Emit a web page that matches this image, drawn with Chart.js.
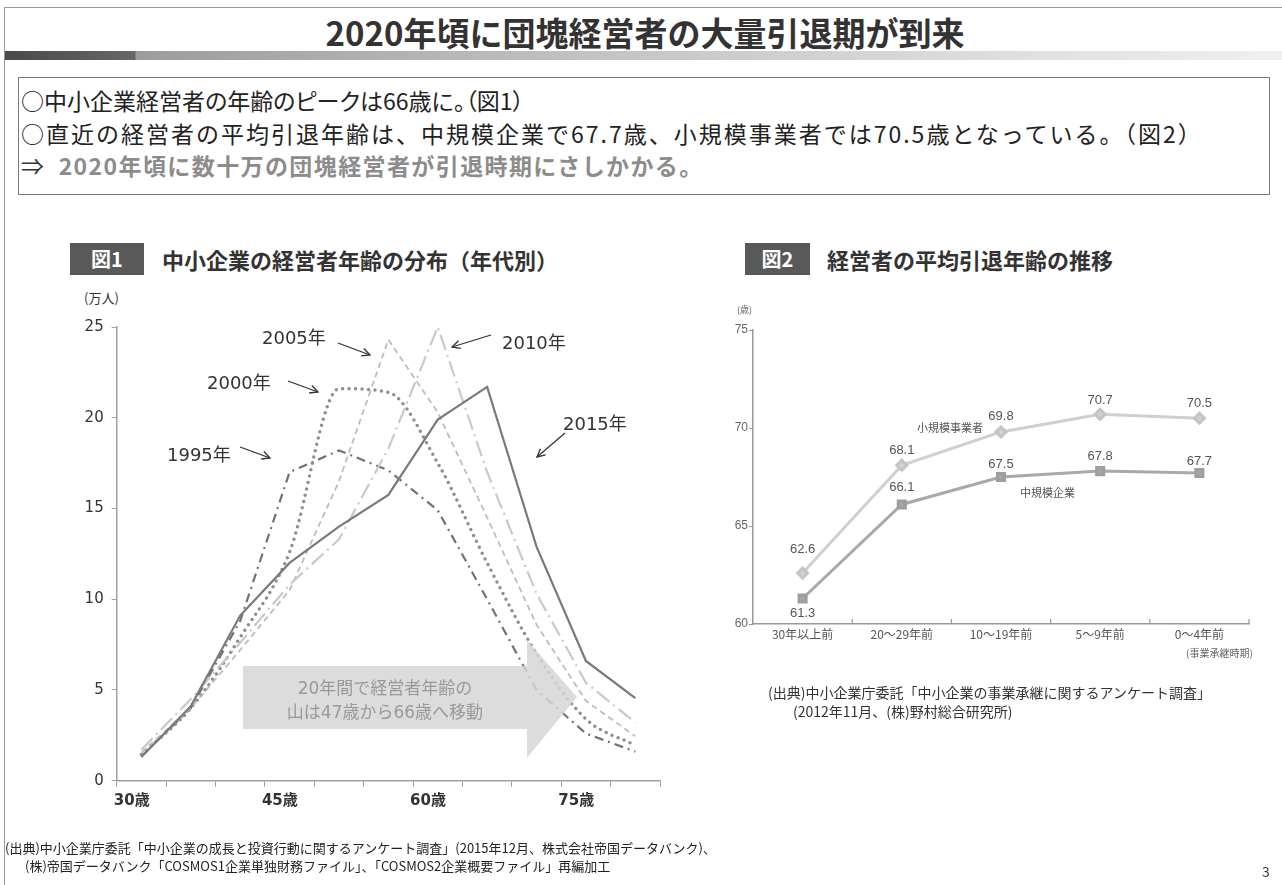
<!DOCTYPE html>
<html><head><meta charset="utf-8">
<script src="https://cdn.jsdelivr.net/npm/chart.js@4"></script>
<style>
html,body{margin:0;padding:0;background:#fff;}
body{width:1282px;height:885px;position:relative;overflow:hidden;font-family:"Noto Sans CJK JP",sans-serif;color:#333;}
.a{position:absolute;white-space:nowrap;}
.ann{font-family:"DejaVu Sans","Noto Sans CJK JP",sans-serif;font-size:18px;color:#333;line-height:22px;}
.lab{font-family:"Noto Sans CJK JP",sans-serif;font-size:11px;color:#555;line-height:14px;}
</style></head><body>
<div class="a" style="left:4px;top:7px;width:1280px;height:1px;background:#9a9a9a"></div>
<div class="a" style="left:4px;top:7px;width:1px;height:880px;background:#9a9a9a"></div>
<div class="a" style="left:5px;top:51px;width:1277px;height:9px;background:linear-gradient(to right,#4a4a4a 0,#666 130px,#9c9c9c 131px,#c4c4c4 600px,#f0f0f0 1277px)"></div>
<div class="a" style="left:0;width:1290px;top:12px;text-align:center;font-size:33px;font-weight:bold;line-height:40px;color:#333">2020年頃に団塊経営者の大量引退期が到来</div>

<div class="a" style="left:18px;top:77px;width:1250px;height:116px;border:1.5px solid #7a7a7a"></div>
<div class="a" style="left:21px;top:85px;font-size:23px;line-height:30px;color:#222;font-feature-settings:'palt'">○中小企業経営者の年齢のピークは66歳に。（図1）</div>
<div class="a" style="left:21px;top:118px;font-size:23px;line-height:30px;color:#222;letter-spacing:2px">○直近の経営者の平均引退年齢は、中規模企業で67.7歳、小規模事業者では70.5歳となっている。（図2）</div>
<div class="a" style="left:21px;top:150px;font-size:23px;line-height:30px;color:#8c8c8c;font-weight:bold;letter-spacing:1.4px"><span style="color:#333;font-weight:normal">⇒</span>&nbsp; 2020年頃に数十万の団塊経営者が引退時期にさしかかる。</div>

<div class="a" style="left:70px;top:243px;width:74px;height:32px;background:#595959;color:#fff;font-weight:bold;font-size:20px;line-height:32px;text-align:center">図1</div>
<div class="a" style="left:162px;top:243px;font-size:22px;font-weight:bold;line-height:32px;color:#333">中小企業の経営者年齢の分布（年代別）</div>
<div class="a" style="left:745px;top:243px;width:65px;height:32px;background:#595959;color:#fff;font-weight:bold;font-size:20px;line-height:32px;text-align:center">図2</div>
<div class="a" style="left:827px;top:243px;font-size:22px;font-weight:bold;line-height:32px;color:#333">経営者の平均引退年齢の推移</div>

<div class="a" style="left:84px;top:289px;font-size:13px;line-height:18px;color:#333">(万人)</div>

<div class="a" style="left:40px;top:280px;width:640px;height:560px"><canvas id="c1" width="640" height="560"></canvas></div>

<svg class="a" style="left:0;top:0" width="1282" height="885" viewBox="0 0 1282 885">
<defs><marker id="ah" markerWidth="10" markerHeight="10" refX="9" refY="5" orient="auto" markerUnits="userSpaceOnUse">
<path d="M1,1 L9,5 L1,9" fill="none" stroke="#333" stroke-width="1.3"/></marker></defs>
<polygon points="243,666 527,666 527,640 577,697 527,758 527,729 243,729" fill="#d6d6d6" fill-opacity="0.85"/>
<g stroke="#333" stroke-width="1.3" fill="none" marker-end="url(#ah)">
<line x1="338" y1="343" x2="370" y2="355"/>
<line x1="491" y1="335" x2="452" y2="347"/>
<line x1="288" y1="381" x2="318" y2="392"/>
<line x1="240" y1="447" x2="270" y2="458"/>
<line x1="565" y1="433" x2="537" y2="457"/>
</g>
</svg>
<div class="a ann" style="left:262px;top:327px">2005年</div>
<div class="a ann" style="left:502px;top:332px">2010年</div>
<div class="a ann" style="left:207px;top:372px">2000年</div>
<div class="a ann" style="left:167px;top:444px">1995年</div>
<div class="a ann" style="left:563px;top:413px">2015年</div>
<div class="a" style="left:243px;width:284px;top:676px;text-align:center;font-family:'DejaVu Sans','Noto Sans CJK JP',sans-serif;font-size:17px;line-height:24px;color:#999">20年間で経営者年齢の<br>山は47歳から66歳へ移動</div>

<div class="a" style="left:700px;top:290px;width:570px;height:380px"><canvas id="c2" width="570" height="380"></canvas></div>
<div class="a" style="left:737px;top:305px;font-size:9px;line-height:10px;color:#666">(歳)</div>
<div class="a lab" style="left:917px;top:420px">小規模事業者</div>
<div class="a lab" style="left:1020px;top:485px">中規模企業</div>
<div class="a" style="left:1186px;top:646px;font-size:10px;line-height:13px;color:#666">(事業承継時期)</div>

<div class="a" style="left:768px;top:683px;font-size:14px;line-height:19px;color:#333">(出典)中小企業庁委託「中小企業の事業承継に関するアンケート調査」</div>
<div class="a" style="left:793px;top:702px;font-size:14px;line-height:19px;color:#333">(2012年11月、(株)野村総合研究所)</div>

<div class="a" style="left:5px;top:839px;font-size:13px;line-height:18px;color:#222">(出典)中小企業庁委託「中小企業の成長と投資行動に関するアンケート調査」(2015年12月、株式会社帝国データバンク)、</div>
<div class="a" style="left:25px;top:857px;font-size:13px;line-height:18px;color:#222">(株)帝国データバンク「COSMOS1企業単独財務ファイル」、「COSMOS2企業概要ファイル」再編加工</div>
<div class="a" style="left:1262px;top:862px;font-size:14px;line-height:18px;color:#333">3</div>

<script>
// ---- 図1 data ----
const ageMid = [32.5, 37.5, 42.5, 47.5, 52.5, 57.5, 62.5, 67.5, 72.5, 77.5, 82.5];
const ageTicks = [30, 45, 60, 75];
const ageTickLabels = ['30歳', '45歳', '60歳', '75歳'];
const y2015 = [1.3, 4.1, 9.1, 12.0, 14.0, 15.75, 19.9, 21.7, 12.9, 6.6, 4.55];
const y2010 = [1.7, 4.5, 7.6, 10.8, 13.3, 18.3, 25.0, 17.0, 10.3, 5.4, 3.2];
const y2005 = [1.55, 4.0, 7.2, 10.5, 16.5, 24.3, 20.3, 14.5, 8.6, 4.4, 2.45];
const y2000 = [1.45, 4.0, 7.9, 12.6, 21.6, 21.4, 17.5, 12.0, 7.0, 3.4, 1.95];
const y1995 = [1.35, 4.0, 8.8, 17.0, 18.2, 17.1, 14.9, 10.0, 5.0, 2.6, 1.6];

// ---- 図2 data ----
const periods = ['30年以上前', '20～29年前', '10～19年前', '5～9年前', '0～4年前'];
const smallBiz = [62.6, 68.1, 69.8, 70.7, 70.5];
const midBiz = [61.3, 66.1, 67.5, 67.8, 67.7];

const pts = arr => arr.map((v, i) => ({x: ageMid[i], y: v}));
const numFont = '"DejaVu Sans","Noto Sans CJK JP",sans-serif';

new Chart(document.getElementById('c1'), {
  type: 'line',
  data: {
    datasets: [
      {label: '2015年', data: pts(y2015), borderColor: '#7a7a7a', borderWidth: 2.2},
      {label: '2010年', data: pts(y2010), borderColor: '#c9c9c9', borderWidth: 2.2, borderDash: [16, 5, 2, 5]},
      {label: '2005年', data: pts(y2005), borderColor: '#bdbdbd', borderWidth: 1.8, borderDash: [6, 4]},
      {label: '2000年', data: pts(y2000), borderColor: '#8e8e8e', borderWidth: 3.5, borderDash: [0, 6.5], borderCapStyle: 'round', cubicInterpolationMode: 'monotone'},
      {label: '1995年', data: pts(y1995), borderColor: '#727272', borderWidth: 2.2, borderDash: [9, 5, 2, 5]}
    ]
  },
  options: {
    responsive: false, animation: false,
    layout: {padding: {left: 0, top: 47, right: 20, bottom: 0}},
    elements: {point: {radius: 0}, line: {tension: 0, fill: false}},
    plugins: {legend: {display: false}, tooltip: {enabled: false}},
    scales: {
      x: {
        type: 'linear', min: 30, max: 85,
        afterFit: s => { s.height = 59.3; },
        border: {color: '#a0a0a0', width: 1.5},
        grid: {drawOnChartArea: false, tickLength: 6, color: '#a0a0a0'},
        ticks: {
          stepSize: 5, autoSkip: false, maxRotation: 0, padding: 5, labelOffset: 15,
          color: '#333', font: {family: numFont, size: 15, weight: 'bold'},
          callback: v => { const k = ageTicks.indexOf(v); return k >= 0 ? ageTickLabels[k] : ''; }
        }
      },
      y: {
        min: 0, max: 25,
        afterFit: s => { s.width = 76.7; },
        border: {color: '#a0a0a0', width: 1.5},
        grid: {drawOnChartArea: false, tickLength: 5, color: '#a0a0a0'},
        ticks: {stepSize: 5, padding: 8, color: '#333', font: {family: numFont, size: 15}}
      }
    }
  }
});

const valueLabels = {
  id: 'valueLabels',
  afterDatasetsDraw(chart) {
    const ctx = chart.ctx;
    ctx.save();
    ctx.font = '13px "Liberation Sans Narrow","Liberation Sans",sans-serif';
    ctx.fillStyle = '#555';
    ctx.textAlign = 'center';
    ctx.textBaseline = 'middle';
    chart.data.datasets.forEach((ds, di) => {
      chart.getDatasetMeta(di).data.forEach((p, i) => {
        ctx.fillText(ds.data[i].toFixed(1), p.x, p.y + ds.labelOffsets[i]);
      });
    });
    // upward tick marks on category boundaries
    const s = chart.scales.x, n = chart.data.labels.length;
    ctx.strokeStyle = '#999'; ctx.lineWidth = 1.2;
    for (let i = 1; i <= n; i++) {
      const x = s.left + i * s.width / n;
      ctx.beginPath(); ctx.moveTo(x, s.top); ctx.lineTo(x, s.top - 5); ctx.stroke();
    }
    ctx.restore();
  }
};

new Chart(document.getElementById('c2'), {
  type: 'line',
  data: {
    labels: periods,
    datasets: [
      {label: '小規模事業者', data: smallBiz, borderColor: '#cfcfcf', borderWidth: 3,
       pointStyle: 'rectRot', pointRadius: 5, pointBackgroundColor: '#d2d2d2', pointBorderColor: '#c4c4c4',
       labelOffsets: [-24, -15, -15, -14, -15]},
      {label: '中規模企業', data: midBiz, borderColor: '#a9a9a9', borderWidth: 3,
       pointStyle: 'rect', pointRadius: 5, pointBackgroundColor: '#a6a6a6', pointBorderColor: '#9e9e9e',
       labelOffsets: [15, -17, -13, -15, -12]}
    ]
  },
  options: {
    responsive: false, animation: false,
    layout: {padding: {left: 0, top: 40, right: 21, bottom: 0}},
    elements: {line: {tension: 0, fill: false}},
    plugins: {legend: {display: false}, tooltip: {enabled: false}},
    scales: {
      x: {
        type: 'category', offset: true,
        afterFit: s => { s.height = 46; },
        border: {color: '#999', width: 1.5},
        grid: {display: false, drawTicks: false, tickLength: 0},
        ticks: {padding: 3, color: '#555', font: {family: '"Noto Sans CJK JP",sans-serif', size: 12}}
      },
      y: {
        min: 60, max: 75,
        afterFit: s => { s.width = 53; },
        border: {color: '#999', width: 1.5},
        grid: {drawOnChartArea: false, tickLength: 4, color: '#999'},
        ticks: {stepSize: 5, padding: 1, color: '#666', font: {family: '"Liberation Sans Narrow","Liberation Sans",sans-serif', size: 12}}
      }
    }
  },
  plugins: [valueLabels]
});
</script>
</body></html>
